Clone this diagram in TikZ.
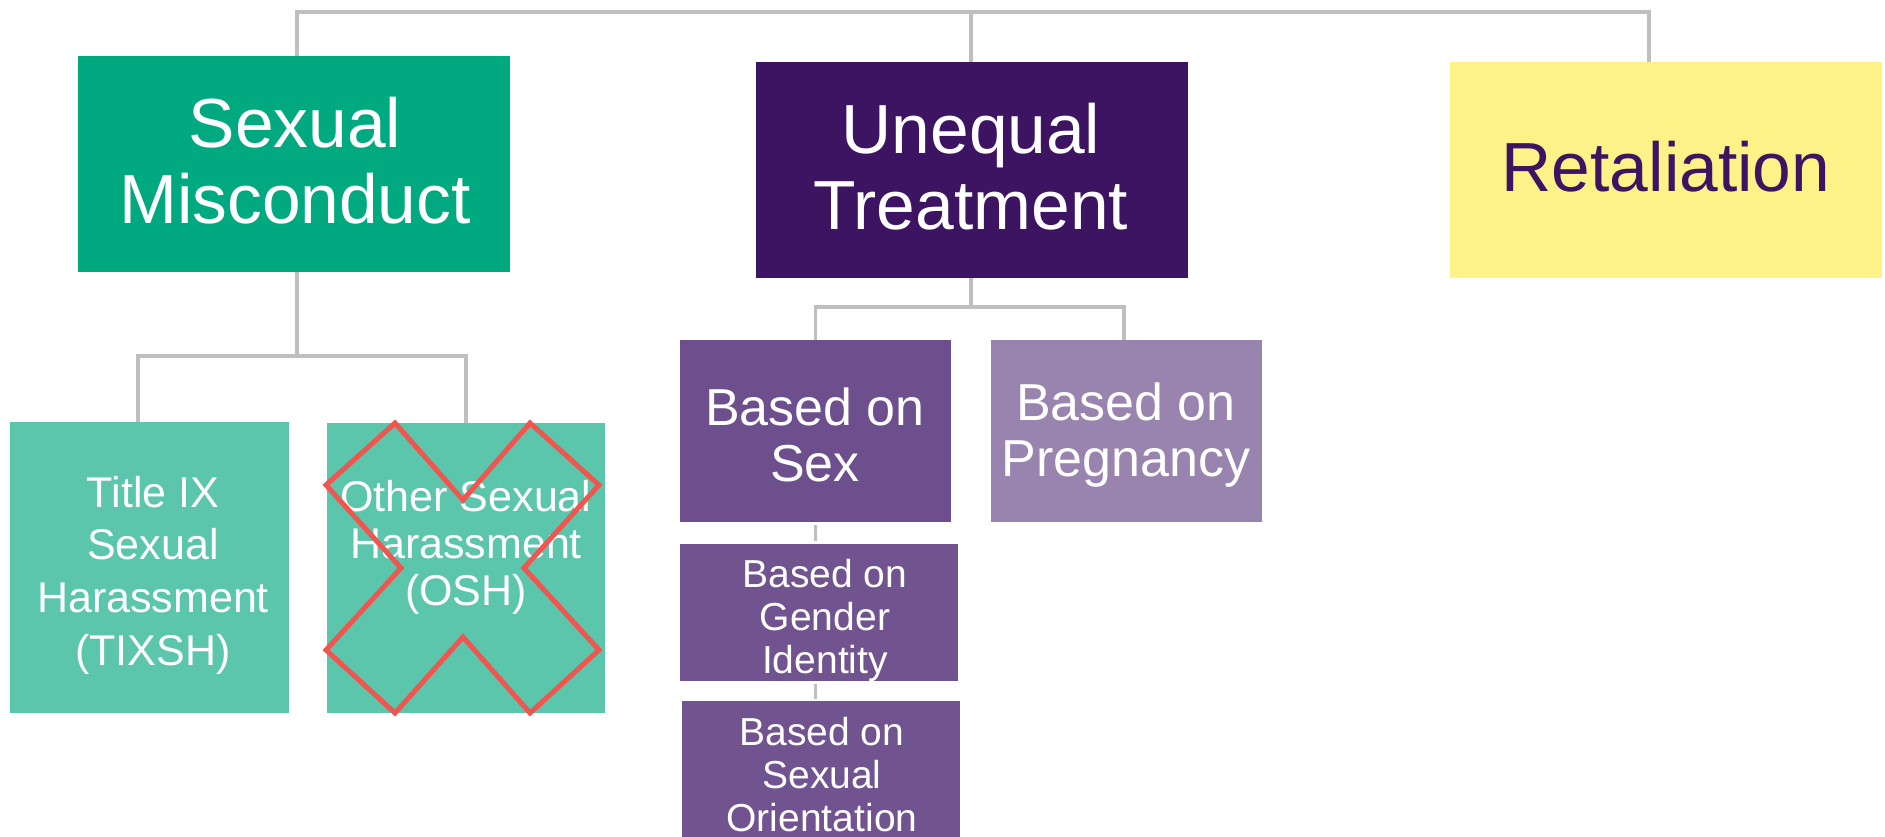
\documentclass[tikz,border=0pt]{standalone}
\usepackage{fontspec}
\setmainfont{Liberation Sans}
\definecolor{smgreen}{HTML}{00A97F}
\definecolor{lightgreen}{HTML}{5BC6AC}
\definecolor{utpurple}{HTML}{3C1462}
\definecolor{retyellow}{HTML}{FCF287}
\definecolor{sexpurple}{HTML}{6C4F8C}
\definecolor{subpurple}{HTML}{71548F}
\definecolor{pregpurple}{HTML}{9884AE}
\definecolor{linegray}{HTML}{BFBFBF}
\definecolor{xred}{HTML}{F05550}
\newcommand\fbig{\fontsize{69.5}{76}\selectfont}
\newcommand\ftix{\fontsize{43}{52.7}\selectfont}
\newcommand\fosh{\fontsize{43}{47}\selectfont}
\newcommand\fbas{\fontsize{52}{56.5}\selectfont}
\newcommand\fsub{\fontsize{39}{43}\selectfont}
\begin{document}
\begin{tikzpicture}[x=1pt,y=-1pt,
  conn/.style={draw=linegray, line width=3.5pt},
  box/.style={rectangle, inner sep=0pt, draw=none},
  txt/.style={inner sep=0pt, align=center, text=white},
  xmark/.style={draw=xred, line width=5pt, line join=miter}]
\useasboundingbox (0,0) rectangle (1885,837);

% top level boxes
\node[box, fill=smgreen, minimum width=432pt, minimum height=216pt] (sm) at (294,164) {};
\node[txt, font=\fbig] (smt) at (295,160.5) {Sexual\\Misconduct};
\node[box, fill=utpurple, minimum width=432pt, minimum height=216pt] (ut) at (972,170) {};
\node[txt, font=\fbig] (utt) at (971,167) {Unequal\\Treatment};
\node[box, fill=retyellow, minimum width=432pt, minimum height=216pt] (ret) at (1666,170) {};
\node[txt, font=\fbig, text=utpurple] (rett) at (1666,167) {Retaliation};

% sexual misconduct children
\node[box, fill=lightgreen, minimum width=279pt, minimum height=291pt] (tix) at (149.5,567.5) {};
\node[txt, font=\ftix] (tixt) at (153,575) {Title IX\\Sexual\\Harassment\\(TIXSH)};
\node[box, fill=lightgreen, minimum width=278pt, minimum height=290pt] (osh) at (466,568) {};
\node[txt, font=\fosh] (osht) at (466,547) {Other Sexual\\Harassment\\(OSH)};

% unequal treatment children
\node[box, fill=sexpurple, minimum width=271pt, minimum height=182pt] (sex) at (815.5,431) {};
\node[txt, font=\fbas] (sext) at (815,435) {Based on\\Sex};
\node[box, fill=pregpurple, minimum width=271pt, minimum height=182pt] (preg) at (1126.5,431) {};
\node[txt, font=\fbas] (pregt) at (1126,435) {Based on\\Pregnancy};
\node[box, fill=subpurple, minimum width=278pt, minimum height=137pt] (gid) at (819,612.5) {};
\node[txt, font=\fsub] (gidt) at (825,620) {Based on\\Gender\\Identity};
\node[box, fill=subpurple, minimum width=278pt, minimum height=136pt] (sor) at (821,769) {};
\node[txt, font=\fsub] (sort) at (822,775) {Based on\\Sexual\\Orientation};

% connectors
\draw[conn] ([xshift=3pt]sm.north) |- (1649,12) -- ([xshift=-17pt]ret.north);
\draw[conn] ([xshift=-1pt]ut.north) -- ++(0,-50);
\coordinate (smj) at (297,356);
\draw[conn] ([xshift=3pt]sm.south) -- (smj);
\draw[conn] ([xshift=-11.5pt]tix.north) |- (smj) -| (osh.north);
\coordinate (utj) at (971,307);
\draw[conn] ([xshift=-1pt]ut.south) -- (utj);
\draw[conn] (sex.north) |- (utj) -| ([xshift=-2.5pt]preg.north);
\draw[conn] ([yshift=-3pt]sex.south) -- ([yshift=3pt]sex.south |- gid.north);
\draw[conn] ([yshift=-3pt]gid.south -| sex.south) -- ([yshift=2pt]sex.south |- sor.north);

% red cross over OSH
\draw[xmark] (395,423) -- (463,500) -- (530,423) -- (599,485) -- (524,568)
  -- (599,650) -- (530,713) -- (463,637) -- (395,713) -- (326,650)
  -- (401,568) -- (326,485) -- cycle;
\end{tikzpicture}
\end{document}
